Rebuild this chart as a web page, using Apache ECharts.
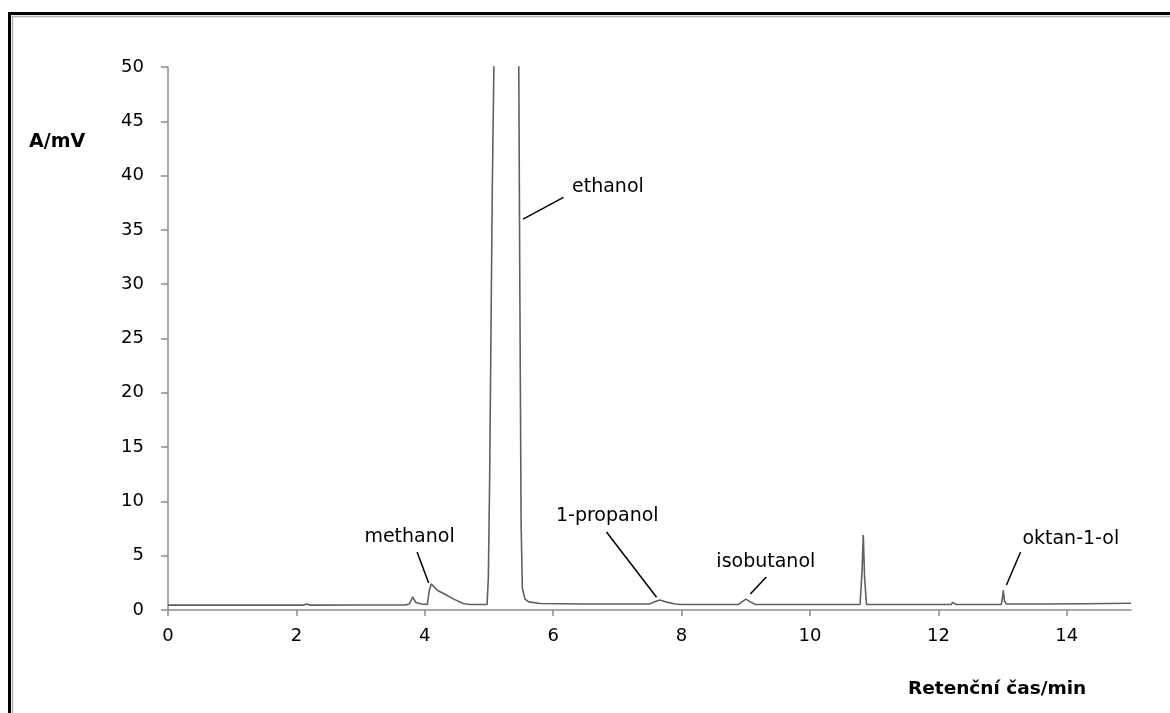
<!DOCTYPE html>
<html>
<head>
<meta charset="utf-8">
<script src="https://cdn.jsdelivr.net/npm/echarts@6/dist/echarts.min.js"></script>
<style>html,body{margin:0;padding:0;background:#fff;}#c{width:1170px;height:713px;}</style>
</head>
<body>
<div id="c"></div>
<script>
// Retention time (min) and detector signal (mV)
const times = [0, 2.1, 2.16, 2.22, 3.0, 3.7, 3.76, 3.81, 3.86, 3.95, 4.04, 4.07, 4.1, 4.2, 4.3, 4.45, 4.6, 4.7,
  4.97, 4.99, 5.01, 5.03, 5.05, 5.08, 5.15, 5.27, 5.4, 5.46, 5.48, 5.5, 5.52, 5.56, 5.62, 5.8, 6.5,
  7.5, 7.58, 7.66, 7.75, 7.9, 8.0, 8.88, 8.95, 9.0, 9.07, 9.15, 9.88, 9.91, 9.94,
  10.78, 10.81, 10.83, 10.85, 10.88, 12.2, 12.22, 12.25, 12.28, 12.98, 13.0, 13.01, 13.03, 13.06,
  13.52, 13.54, 13.57, 14.3, 15.0];
const signal = [0.45, 0.45, 0.55, 0.45, 0.46, 0.47, 0.55, 1.2, 0.7, 0.55, 0.52, 1.8, 2.4, 1.8, 1.5, 1.0, 0.6, 0.5,
  0.5, 3, 12, 25, 38, 52, 120, 200, 120, 55, 30, 8, 2, 1.0, 0.75, 0.6, 0.55,
  0.55, 0.75, 0.92, 0.75, 0.55, 0.5, 0.5, 0.8, 1.0, 0.75, 0.5, 0.5, 0.62, 0.5,
  0.5, 3.5, 6.9, 3.0, 0.5, 0.5, 0.7, 0.55, 0.5, 0.5, 1.2, 1.8, 0.8, 0.55,
  0.55, 0.65, 0.55, 0.58, 0.62];

// Peak annotations
const peakNames = ['methanol', 'ethanol', '1-propanol', 'isobutanol', 'oktan-1-ol'];
const labelX = [3.77, 6.86, 6.85, 9.32, 14.07];
const labelY = [6.63, 38.86, 8.56, 4.33, 6.45];
const leaderFromX = [3.88, 6.16, 6.83, 9.32, 13.28];
const leaderFromY = [5.34, 38.0, 7.18, 3.04, 5.34];
const leaderToX = [4.06, 5.53, 7.61, 9.07, 13.06];
const leaderToY = [2.49, 36.0, 1.17, 1.47, 2.30];

const xTicks = [0, 2, 4, 6, 8, 10, 12, 14];
const xAxisTitle = 'Retenční čas/min';
const yAxisTitle = 'A/mV';

const FONT = 'DejaVu Sans';
const chart = echarts.init(document.getElementById('c'));

const series = [{
  type: 'line',
  data: times.map((t, i) => [t, signal[i]]),
  symbol: 'none',
  clip: true,
  lineStyle: { color: '#606060', width: 1.6 },
  silent: true,
  z: 3
}];
peakNames.forEach((n, i) => {
  series.push({
    type: 'line',
    data: [[leaderFromX[i], leaderFromY[i]], [leaderToX[i], leaderToY[i]]],
    symbol: 'none',
    lineStyle: { color: '#000', width: 1.5 },
    silent: true,
    z: 4
  });
});
series.push({
  type: 'scatter',
  data: peakNames.map((n, i) => [labelX[i], labelY[i], n]),
  symbolSize: 1,
  itemStyle: { opacity: 0 },
  silent: true,
  label: {
    show: true,
    position: [0, 0],
    align: 'center',
    verticalAlign: 'middle',
    formatter: p => p.value[2],
    color: '#000',
    opacity: 1,
    textBorderWidth: 0,
    fontFamily: FONT,
    fontSize: 19
  },
  z: 5
});

chart.setOption({
  animation: false,
  backgroundColor: '#fff',
  grid: { left: 168, right: 39, top: 67, bottom: 103 },
  xAxis: {
    type: 'value', min: 0, max: 15, interval: 2,
    axisLine: { lineStyle: { color: '#8c8c8c', width: 1.5 } },
    axisTick: { show: true, length: 6, customValues: xTicks, lineStyle: { color: '#8c8c8c', width: 1.5 } },
    axisLabel: { customValues: xTicks, color: '#000', fontFamily: FONT, fontSize: 18, margin: 17 },
    splitLine: { show: false }
  },
  yAxis: {
    type: 'value', min: 0, max: 50, interval: 5,
    axisLine: { show: true, lineStyle: { color: '#8c8c8c', width: 1.5 } },
    axisTick: { show: true, length: 7, lineStyle: { color: '#8c8c8c', width: 1.5 } },
    axisLabel: { color: '#000', fontFamily: FONT, fontSize: 18, margin: 24 },
    splitLine: { show: false }
  },
  graphic: [
    { type: 'rect', shape: { x: 9.5, y: 13.5, width: 1200, height: 750 }, style: { fill: 'none', stroke: '#000', lineWidth: 3 }, silent: true },
    { type: 'rect', shape: { x: 12.5, y: 16.5, width: 1200, height: 750 }, style: { fill: 'none', stroke: '#b0b0b0', lineWidth: 1.5 }, silent: true },
    { type: 'text', left: 29, top: 133, style: { text: yAxisTitle, font: 'bold 19px "DejaVu Sans"', fill: '#000' } },
    { type: 'text', left: 908, top: 680, style: { text: xAxisTitle, font: 'bold 18.5px "DejaVu Sans"', fill: '#000' } }
  ],
  series: series
});
</script>
</body>
</html>
